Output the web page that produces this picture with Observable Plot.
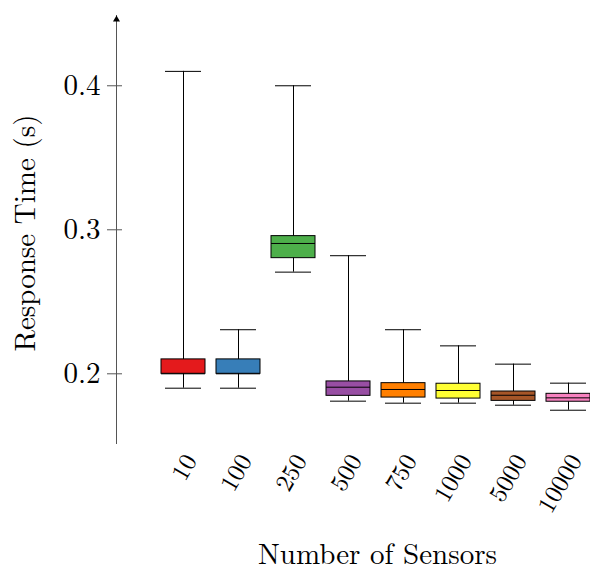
<!DOCTYPE html>
<html><head><meta charset="utf-8">
<script src="https://cdn.jsdelivr.net/npm/d3@7"></script>
<script src="https://cdn.jsdelivr.net/npm/@observablehq/plot@0.6"></script>
<style>
html,body{margin:0;padding:0;background:#fff;overflow:hidden}
svg{display:block}
</style>
</head><body><div id="chart"></div>
<script>
const categories = ["10","100","250","500","750","1000","5000","10000"];
const whiskerLow  = [0.190, 0.190, 0.2706, 0.1810, 0.1796, 0.1796, 0.1782, 0.1747];
const q1          = [0.200, 0.200, 0.2803, 0.1847, 0.1835, 0.1828, 0.1812, 0.1806];
const median      = [0.200, 0.200, 0.2905, 0.1907, 0.1891, 0.1884, 0.1851, 0.1833];
const q3          = [0.210, 0.210, 0.2956, 0.1947, 0.1935, 0.1931, 0.1877, 0.1861];
const whiskerHigh = [0.410, 0.2306, 0.400, 0.2820, 0.2306, 0.2194, 0.2067, 0.1935];
const colors = ["#e41a1c","#377eb8","#4daf4a","#984ea3","#ff7f00","#ffff33","#a65628","#f781bf"];
const yTicks = [0.2, 0.3, 0.4];
const xTitle = "Number of Sensors";
const yTitle = "Response Time (s)";

const FONT = "'Latin Modern Roman', 'Liberation Serif', serif";

const data = categories.map((c, i) => ({
  category: c, low: whiskerLow[i], q1: q1[i], median: median[i], q3: q3[i], high: whiskerHigh[i]
}));

const chart = Plot.plot({
  width: 590, height: 571,
  marginLeft: 116, marginRight: 0, marginTop: 15, marginBottom: 128,
  style: {fontFamily: FONT, background: "#fff", color: "#000"},
  x: {domain: categories, range: [131, 619.4], paddingInner: 0.207, paddingOuter: 0.5, align: 0.5, label: null},
  y: {domain: [0.1516, 0.4488], range: [443, 15], label: null},
  color: {domain: categories, range: colors},
  marks: [
    Plot.ruleX(data, {x: "category", y1: "low", y2: "high", stroke: "#000", strokeWidth: 1}),
    Plot.tickY(data, {x: "category", y: "low", insetLeft: 4, insetRight: 4, stroke: "#000", strokeWidth: 1}),
    Plot.tickY(data, {x: "category", y: "high", insetLeft: 4, insetRight: 4, stroke: "#000", strokeWidth: 1}),
    Plot.barY(data, {x: "category", y1: "q1", y2: "q3", fill: "category", stroke: "#000", strokeWidth: 1}),
    Plot.tickY(data, {x: "category", y: "median", stroke: "#000", strokeWidth: 1}),
    Plot.frame({anchor: "left", stroke: "#555", strokeWidth: 1}),
    Plot.dot([0], {frameAnchor: "top-left", dy: 4, symbol: "triangle", r: 2.6, fill: "#000", stroke: "none"}),
    Plot.axisY(yTicks, {tickSize: 15, dx: 6, text: null, stroke: "#555", label: null}),
    Plot.axisY(yTicks, {tickSize: 0, tickPadding: 16, tickFormat: d => d.toFixed(1), fontSize: 29, fontFamily: FONT, fontVariant: "normal", label: null}),
    Plot.axisX({tickSize: 0, tickPadding: 13, tickRotate: -60, textAnchor: "end", lineAnchor: "middle", dx: 7, fontSize: 25, fontFamily: FONT, fontVariant: "normal", label: null}),
    Plot.text([xTitle], {text: d => d, frameAnchor: "bottom", dx: 24, dy: 111, fontSize: 29, fontFamily: FONT, textAnchor: "middle", lineAnchor: "middle"}),
    Plot.text([yTitle], {text: d => d, frameAnchor: "left", rotate: -90, dx: -90.3, dy: 3.5, fontSize: 29, fontFamily: FONT, textAnchor: "middle", lineAnchor: "middle"})
  ]
});
chart.querySelectorAll("text, g").forEach(el => el.style.setProperty("font-family", FONT, "important"));
document.getElementById("chart").appendChild(chart);
</script>
</body></html>
